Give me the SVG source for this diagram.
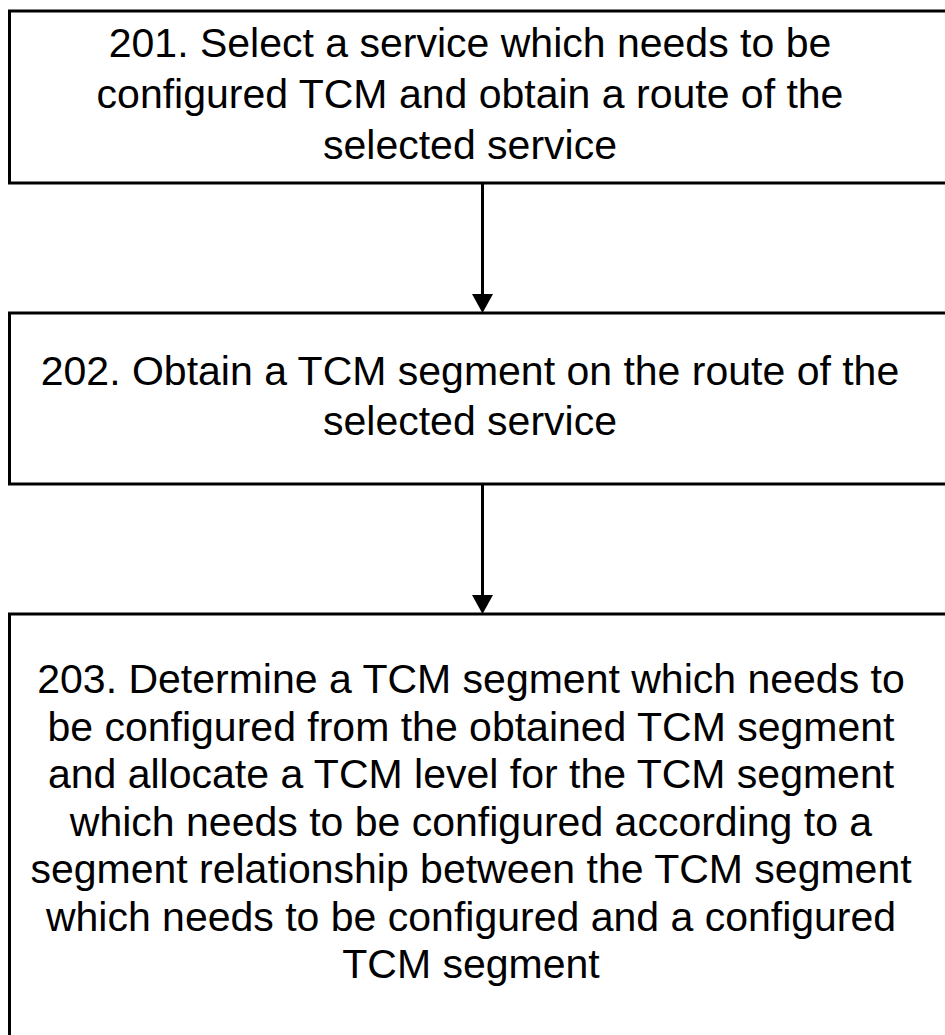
<svg xmlns="http://www.w3.org/2000/svg" width="945" height="1035" viewBox="0 0 945 1035">
  <style>
    .box { fill: #ffffff; stroke: #000000; stroke-width: 3; }
    .label { font-family: "Liberation Sans", Arial, sans-serif; font-size: 41px; fill: #000000; text-anchor: middle; }
    .edge { stroke: #000000; stroke-width: 3; fill: none; }
    .head { fill: #000000; }
  </style>
  <rect width="945" height="1035" fill="#ffffff"/>

  <g id="step201">
    <rect class="box" x="9.5" y="11" width="950" height="172"/>
    <text class="label" x="470" y="57">201. Select a service which needs to be</text>
    <text class="label" x="470" y="108">configured TCM and obtain a route of the</text>
    <text class="label" x="470" y="159">selected service</text>
  </g>

  <g id="step202">
    <rect class="box" x="9.5" y="313" width="950" height="171"/>
    <text class="label" x="470" y="385">202. Obtain a TCM segment on the route of the</text>
    <text class="label" x="470" y="435">selected service</text>
  </g>

  <g id="step203">
    <rect class="box" x="9.5" y="614" width="950" height="430"/>
    <text class="label" x="471" y="693">203. Determine a TCM segment which needs to</text>
    <text class="label" x="471" y="740.5">be configured from the obtained TCM segment</text>
    <text class="label" x="471" y="788">and allocate a TCM level for the TCM segment</text>
    <text class="label" x="471" y="835.5">which needs to be configured according to a</text>
    <text class="label" x="471" y="883">segment relationship between the TCM segment</text>
    <text class="label" x="471" y="930.5">which needs to be configured and a configured</text>
    <text class="label" x="471" y="978">TCM segment</text>
  </g>

  <g id="connectors">
    <line class="edge" x1="482.5" y1="183" x2="482.5" y2="296"/>
    <polygon class="head" points="472,294 493,294 482.5,313"/>
    <line class="edge" x1="482.5" y1="484" x2="482.5" y2="597"/>
    <polygon class="head" points="472,595 493,595 482.5,614"/>
  </g>
</svg>
